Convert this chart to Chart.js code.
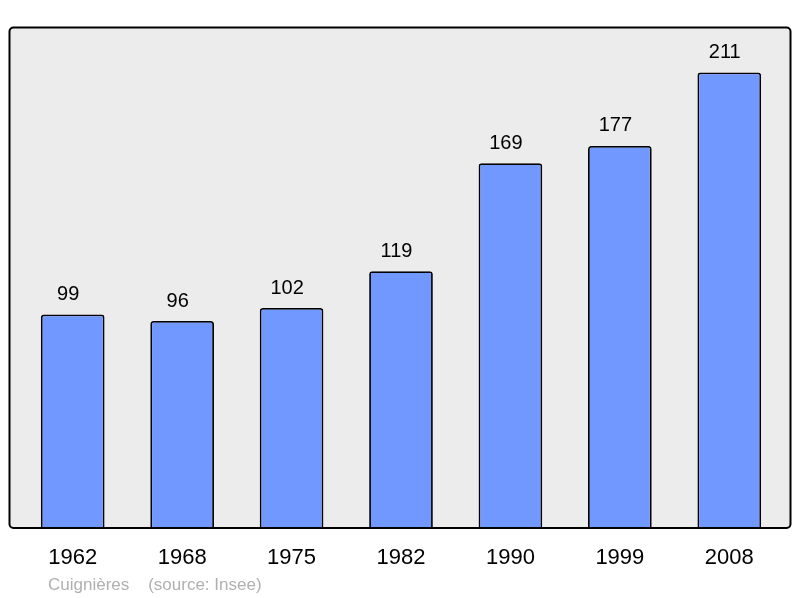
<!DOCTYPE html>
<html><head><meta charset="utf-8">
<script src="https://cdn.jsdelivr.net/npm/chart.js@4/dist/chart.umd.min.js"></script>
<style>html,body{margin:0;padding:0;background:#fff}#wrap{width:800px;height:598px}</style>
</head><body><div id="wrap"><canvas id="c" width="800" height="598"></canvas></div>
<script>
const years = ["1962","1968","1975","1982","1990","1999","2008"];
const population = [99,96,102,119,169,177,211];
const footerText = "Cuignières    (source: Insee)";

function framePath(ctx){
  const x0=9.5,y0=27.5,x1=790.5,y1=528;
  ctx.beginPath();
  ctx.roundRect(x0,y0,x1-x0,y1-y0,4);
}
const framePlugin = {
  id:'frame',
  beforeDraw(chart){
    const ctx = chart.ctx;
    ctx.save();
    framePath(ctx);
    ctx.fillStyle='#ececec';
    ctx.fill();
    ctx.restore();
  },
  afterDatasetsDraw(chart){
    const ctx=chart.ctx;
    ctx.save();
    framePath(ctx);
    ctx.lineWidth=2;
    ctx.strokeStyle='#000';
    ctx.stroke();
    const meta=chart.getDatasetMeta(0);
    ctx.font='20px "Liberation Sans", Arial, sans-serif';
    ctx.fillStyle='#000';
    ctx.textAlign='center';
    ctx.textBaseline='middle';
    meta.data.forEach((bar,i)=>{
      ctx.fillText(String(population[i]), bar.x-4.5, bar.y-20);
    });
    ctx.font='17px "Liberation Sans", Arial, sans-serif';
    ctx.fillStyle='#b0b0b0';
    ctx.textAlign='left';
    ctx.textBaseline='middle';
    ctx.fillText(footerText, 48, 585);
    ctx.restore();
  }
};

new Chart(document.getElementById('c'),{
  type:'bar',
  data:{labels:years,datasets:[{data:population,backgroundColor:'#7098ff',borderColor:'#000',borderWidth:1.8,borderRadius:3,borderSkipped:'bottom',categoryPercentage:1,barPercentage:0.582}]},
  options:{
    responsive:false,animation:false,
    layout:{padding:{left:18,right:16,top:27,bottom:19}},
    plugins:{legend:{display:false},tooltip:{enabled:false}},
    scales:{
      y:{display:false,min:0,max:232},
      x:{grid:{display:false},border:{display:false},ticks:{color:'#000',font:{size:22,family:'"Liberation Sans", Arial, sans-serif'},padding:8}}
    }
  },
  plugins:[framePlugin]
});
</script></body></html>
